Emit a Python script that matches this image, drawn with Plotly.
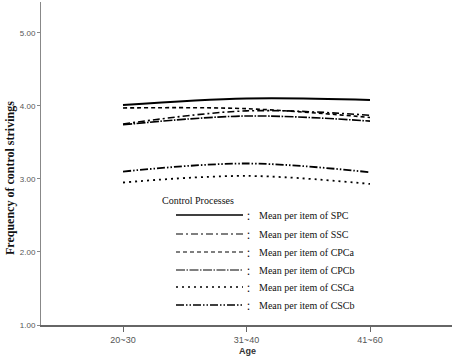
import plotly.graph_objects as go

ages = ["20~30", "31~40", "41~60"]
names = ["Mean per item of SPC", "Mean per item of SSC", "Mean per item of CPCa",
         "Mean per item of CPCb", "Mean per item of CSCa", "Mean per item of CSCb"]
spc = [4.01, 4.10, 4.08]
ssc = [3.75, 3.93, 3.87]
cpca = [3.97, 3.96, 3.84]
cpcb = [3.74, 3.86, 3.79]
csca = [2.95, 3.04, 2.93]
cscb = [3.10, 3.21, 3.09]
series = [spc, ssc, cpca, cpcb, csca, cscb]
dashes = ["solid", "7px,3px,2px,3px", "4px,3px", "9px,1.5px,1.5px,1.5px", "2px,4px",
          "8px,2px,1.5px,2px,1.5px,2px"]
widths = [2, 1.6, 1.6, 1.6, 1.8, 1.8]

W, H = 454, 363
L, R, T, B = 41, 2, 2, 38
pw, ph = W - L - R, H - T - B

def px(x):
    return (x - L) / pw

def py(y):
    return (H - B - y) / ph

fig = go.Figure()
xs = list(range(len(ages)))
for s, n, d, w in zip(series, names, dashes, widths):
    fig.add_trace(go.Scatter(x=xs, y=s, mode="lines", name=n, showlegend=False,
                             line=dict(color="black", width=w, dash=d, shape="spline")))

serif = "Liberation Serif, Times New Roman, serif"
narrow = "Liberation Sans Narrow, Arial Narrow, Liberation Sans, Arial, sans-serif"

shapes = []
annotations = [dict(x=px(160), y=py(200), xref="paper", yref="paper", text="Control Processes",
                    showarrow=False, xanchor="left", yanchor="middle",
                    font=dict(family=serif, size=10, color="#111"))]
rows = [215, 234, 252, 270, 287, 305]
for ry, n, d, w in zip(rows, names, dashes, widths):
    shapes.append(dict(type="line", xref="paper", yref="paper", x0=px(176), x1=px(243),
                       y0=py(ry), y1=py(ry), line=dict(color="black", width=w * 0.75, dash=d)))
    annotations.append(dict(x=px(244), y=py(ry), xref="paper", yref="paper", text="：",
                            showarrow=False, xanchor="left", yanchor="middle",
                            font=dict(family="Noto Sans CJK SC", size=10, color="#111")))
    annotations.append(dict(x=px(257), y=py(ry), xref="paper", yref="paper", text=n,
                            showarrow=False, xanchor="left", yanchor="middle",
                            font=dict(family=serif, size=10, color="#111")))

annotations.append(dict(x=px(10), y=py(178), xref="paper", yref="paper",
                        text="<b>Frequency of control strivings</b>", textangle=-90,
                        showarrow=False, xanchor="center", yanchor="middle",
                        font=dict(family=serif, size=12, color="#111")))
annotations.append(dict(x=px(247), y=py(351), xref="paper", yref="paper",
                        text="<b>Age</b>", showarrow=False, xanchor="center", yanchor="middle",
                        font=dict(family=narrow, size=9, color="#333")))

fig.update_layout(
    width=W, height=H, margin=dict(l=L, r=R, t=T, b=B),
    paper_bgcolor="white", plot_bgcolor="white",
    shapes=shapes, annotations=annotations, showlegend=False,
    xaxis=dict(range=[-0.664, 2.664], tickvals=xs, ticktext=ages, showgrid=False,
               zeroline=False, showline=True, linecolor="#666", linewidth=1.5,
               ticks="outside", ticklen=5, tickcolor="#666",
               tickfont=dict(family=narrow, size=9, color="#555")),
    yaxis=dict(range=[1, 5.42], tickvals=[1, 2, 3, 4, 5],
               ticktext=["1.00", "2.00", "3.00", "4.00", "5.00"], showgrid=False,
               zeroline=False, showline=True, linecolor="#888", linewidth=1,
               ticks="outside", ticklen=3, tickcolor="#888",
               tickfont=dict(family=narrow, size=8, color="#555")),
)
fig.write_html("out.html", config={"displayModeBar": False},
               post_script="document.body.style.margin='0';")
